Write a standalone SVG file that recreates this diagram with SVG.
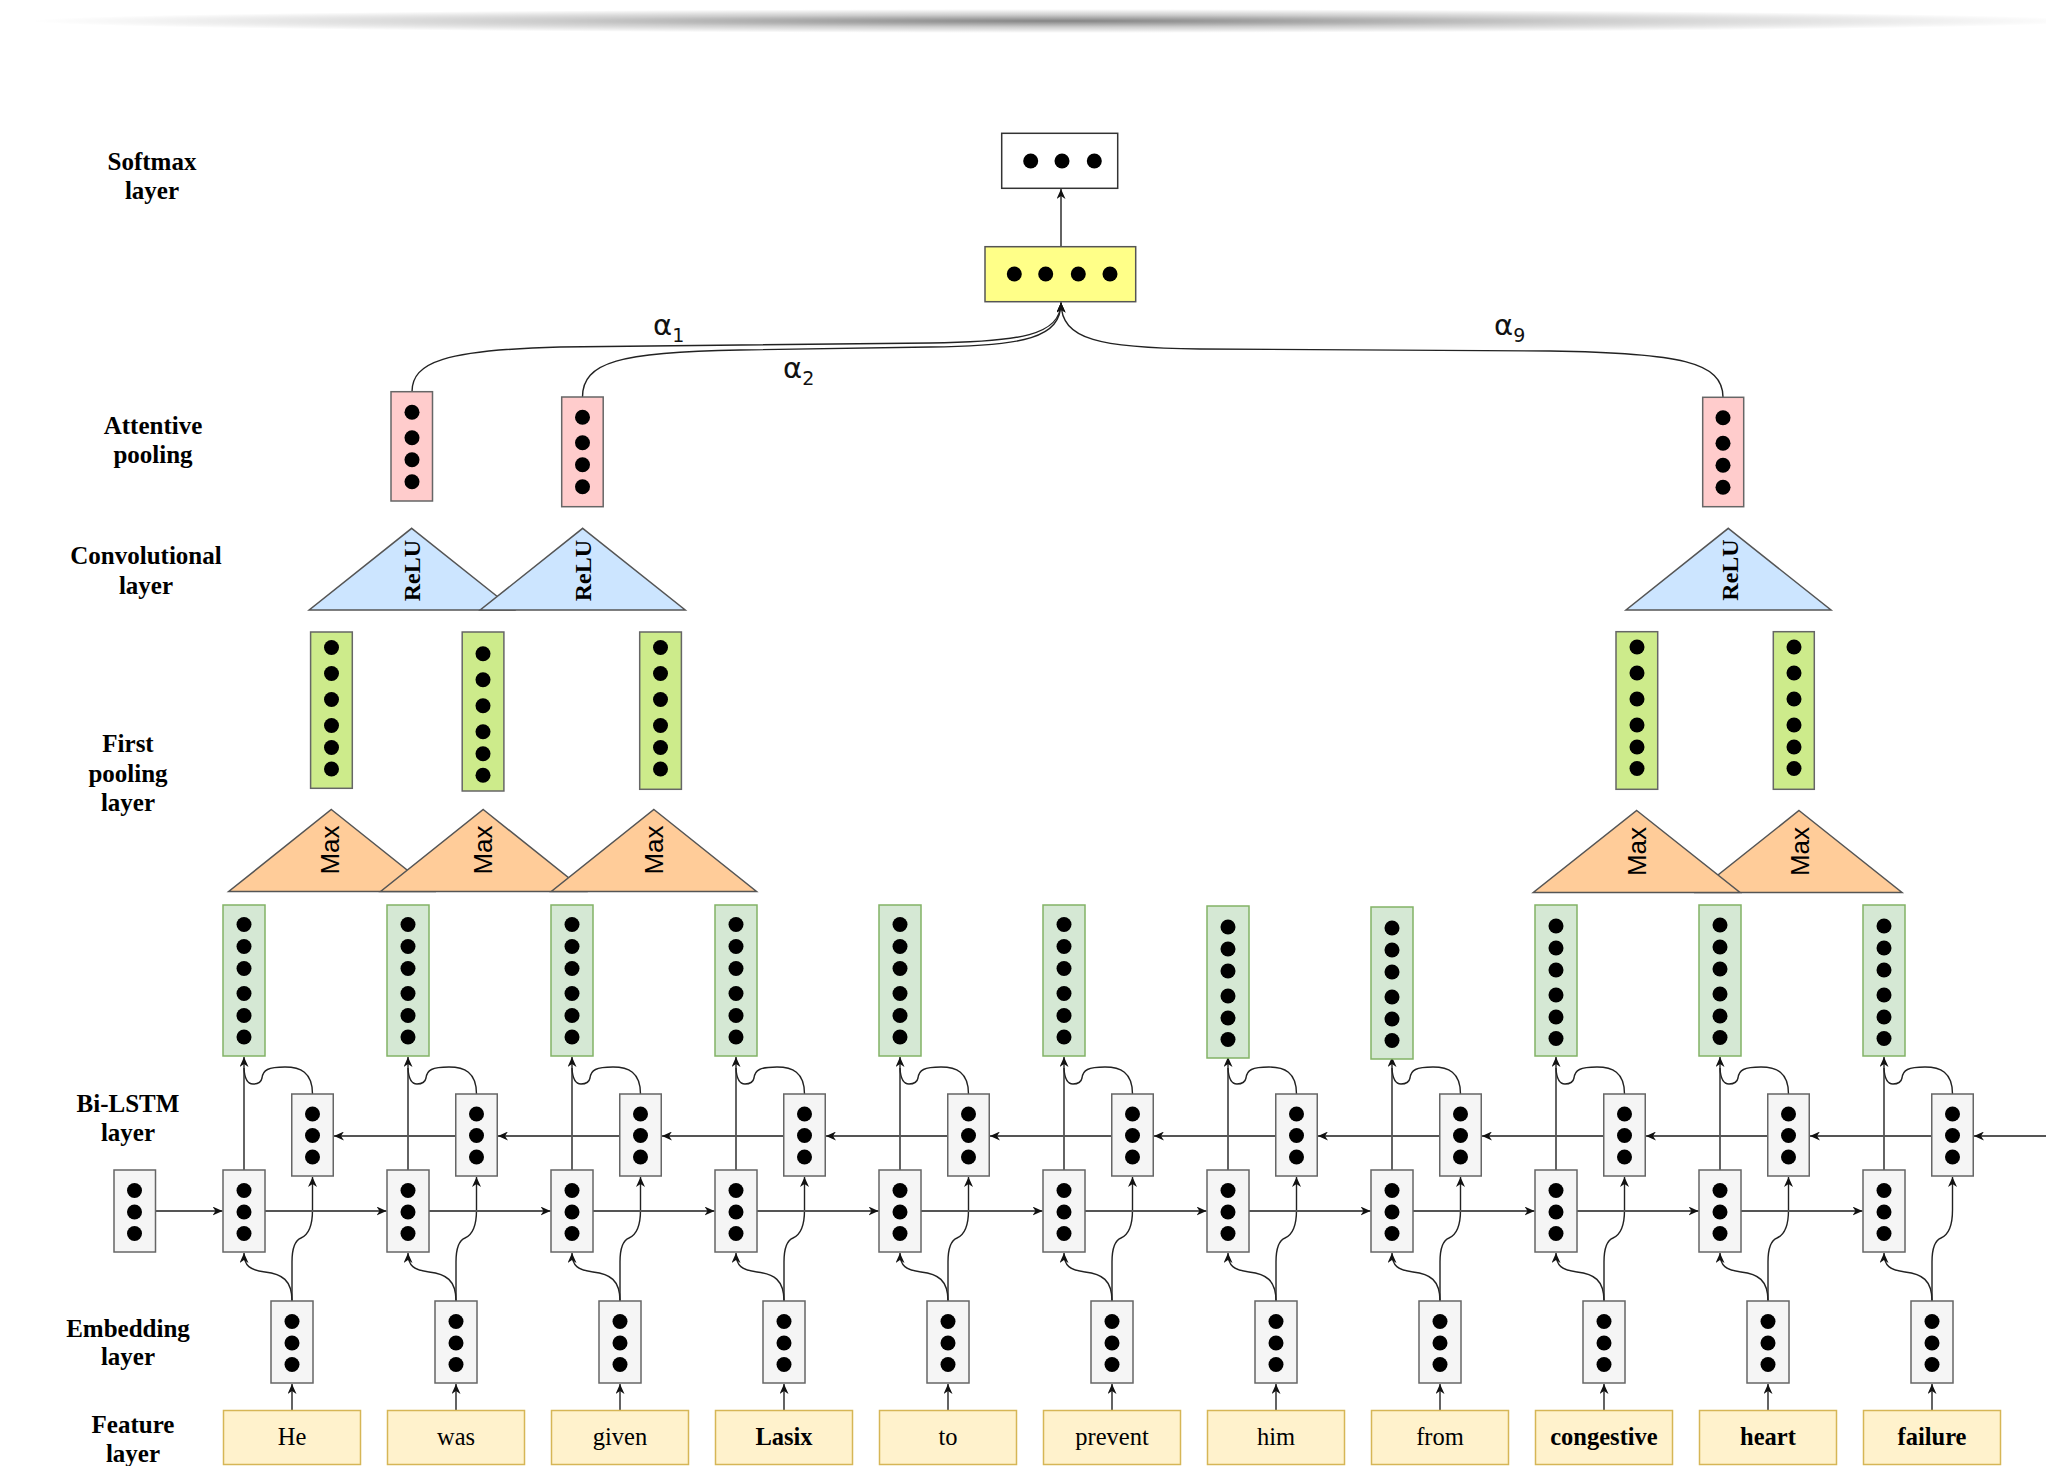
<svg xmlns="http://www.w3.org/2000/svg" width="2046" height="1466" viewBox="0 0 2046 1466">
  <style>
    .box{fill:#F5F5F5;stroke:#666;stroke-width:1.5}
    .out{fill:#D5E8D4;stroke:#82B366;stroke-width:1.5}
    .pool{fill:#CDEB8B;stroke:#666;stroke-width:1.5}
    .attn{fill:#FFCCCC;stroke:#666;stroke-width:1.5}
    .feat{fill:#FFF2CC;stroke:#D6B656;stroke-width:1.5}
    .relu{fill:#CCE5FF;stroke:#555;stroke-width:1.5}
    .max{fill:#FFCC99;stroke:#555;stroke-width:1.5}
    .agg{fill:#FFFF88;stroke:#555;stroke-width:1.5}
    .soft{fill:#FFFFFF;stroke:#333;stroke-width:1.5}
    .edge{fill:none;stroke:#222;stroke-width:1.4}
    .hedge{fill:none;stroke:#555;stroke-width:1.8}
    .dots circle{fill:#000}
    .lbl{font-family:"Liberation Serif",serif;font-weight:bold;font-size:25px;text-anchor:middle;fill:#000}
    .word{font-family:"Liberation Serif",serif;font-size:24.5px;text-anchor:middle;fill:#000}
    .bold{font-weight:bold}
    .rl{font-family:"Liberation Serif",serif;font-weight:bold;font-size:24px;text-anchor:middle;dominant-baseline:central;fill:#000}
    .mx{font-family:"Liberation Sans",sans-serif;font-size:26px;text-anchor:middle;dominant-baseline:central;fill:#000}
    .alpha{font-family:"DejaVu Sans",sans-serif;font-size:29px;fill:#111}
    .sub{font-size:19px}
  </style>
  <defs>
    <radialGradient id="shade" cx="0.5" cy="0.5" r="0.5">
      <stop offset="0" stop-color="#000" stop-opacity="0.48"/>
      <stop offset="0.5" stop-color="#000" stop-opacity="0.2"/>
      <stop offset="1" stop-color="#000" stop-opacity="0"/>
    </radialGradient>
    <marker id="arr" viewBox="0 0 10 9" refX="10" refY="4.5" markerWidth="10" markerHeight="9" markerUnits="userSpaceOnUse" orient="auto">
      <path d="M0,0 L10,4.5 L0,9 L3,4.5 Z" fill="#111"/>
    </marker>
    <!-- dot stacks -->
    <g id="d3" class="dots"><circle cx="0" cy="0" r="7.5"/><circle cx="0" cy="21.5" r="7.5"/><circle cx="0" cy="43" r="7.5"/></g>
    <g id="d4" class="dots"><circle cx="0" cy="0" r="7.5"/><circle cx="0" cy="25.5" r="7.5"/><circle cx="0" cy="47.5" r="7.5"/><circle cx="0" cy="69.5" r="7.5"/></g>
    <g id="d6" class="dots"><circle cx="0" cy="0" r="7.5"/><circle cx="0" cy="22" r="7.5"/><circle cx="0" cy="44" r="7.5"/><circle cx="0" cy="69" r="7.5"/><circle cx="0" cy="91" r="7.5"/><circle cx="0" cy="112.5" r="7.5"/></g>
    <g id="d6p" class="dots"><circle cx="0" cy="0" r="7.5"/><circle cx="0" cy="26" r="7.5"/><circle cx="0" cy="52" r="7.5"/><circle cx="0" cy="78" r="7.5"/><circle cx="0" cy="100" r="7.5"/><circle cx="0" cy="121.5" r="7.5"/></g>
    <!-- links of one word column (column 0); other columns are shifted by 164 -->
    <g id="col-links">
      <path class="edge" marker-end="url(#arr)" d="M292 1410 L292 1384"/>
      <path class="edge" marker-end="url(#arr)" d="M292 1301 C292 1280 282 1274 265 1272 C250 1270 244 1266 244 1253"/>
      <path class="edge" marker-end="url(#arr)" d="M292 1301 L292 1262 C292 1245 296 1240 301 1238 C308 1235 312.5 1228 312.5 1210 L312.5 1177"/>
      <path class="edge" marker-end="url(#arr)" d="M244 1170 L244 1057"/>
      <path class="edge" d="M312.5 1094 C312.5 1072 300 1067 285 1067 C268 1067 263 1070 262 1078 C261 1083 257 1084 253 1084 C247 1084 244.5 1078 244 1068"/>
    </g>
    <!-- forward step to the next cell and backward step from the next cell -->
    <g id="rec-links">
      <path class="hedge" marker-end="url(#arr)" d="M265 1211 L386.5 1211"/>
      <path class="hedge" marker-end="url(#arr)" d="M455.75 1136 L334 1136"/>
    </g>
  </defs>

  <!-- top shading band -->
  <ellipse cx="1060" cy="21" rx="1030" ry="12" fill="url(#shade)"/>

  <!-- layer labels -->
  <g id="labels">
    <text class="lbl" x="152" y="170">Softmax</text><text class="lbl" x="152" y="199">layer</text>
    <text class="lbl" x="153" y="434">Attentive</text><text class="lbl" x="153" y="463">pooling</text>
    <text class="lbl" x="146" y="564">Convolutional</text><text class="lbl" x="146" y="594">layer</text>
    <text class="lbl" x="128" y="752">First</text><text class="lbl" x="128" y="782">pooling</text><text class="lbl" x="128" y="811">layer</text>
    <text class="lbl" x="128" y="1112">Bi-LSTM</text><text class="lbl" x="128" y="1141">layer</text>
    <text class="lbl" x="128" y="1337">Embedding</text><text class="lbl" x="128" y="1365">layer</text>
    <text class="lbl" x="133" y="1433">Feature</text><text class="lbl" x="133" y="1462">layer</text>
  </g>

  <!-- connectors -->
  <g id="connectors">
    <use href="#col-links" x="0"/>
    <use href="#col-links" x="164"/>
    <use href="#col-links" x="328"/>
    <use href="#col-links" x="492"/>
    <use href="#col-links" x="656"/>
    <use href="#col-links" x="820"/>
    <use href="#col-links" x="984"/>
    <use href="#col-links" x="1148"/>
    <use href="#col-links" x="1312"/>
    <use href="#col-links" x="1476"/>
    <use href="#col-links" x="1640"/>
    <!-- forward and backward recurrences -->
    <path class="hedge" marker-end="url(#arr)" d="M155.5 1211 L222.5 1211"/>
    <use href="#rec-links" x="0"/>
    <use href="#rec-links" x="164"/>
    <use href="#rec-links" x="328"/>
    <use href="#rec-links" x="492"/>
    <use href="#rec-links" x="656"/>
    <use href="#rec-links" x="820"/>
    <use href="#rec-links" x="984"/>
    <use href="#rec-links" x="1148"/>
    <use href="#rec-links" x="1312"/>
    <use href="#rec-links" x="1476"/>
    <path class="hedge" marker-end="url(#arr)" d="M2046 1136 L1974 1136"/>
    <!-- attention weights -->
    <path class="edge" marker-end="url(#arr)" d="M412 391.7 C412 362 445 350 560 347 L930 343 C1020 342 1061 335 1061 302.5"/>
    <path class="edge" marker-end="url(#arr)" d="M582.5 397 C582.5 362 620 352 740 350 L930 347 C1025 346 1061 338 1061 302.5"/>
    <path class="edge" marker-end="url(#arr)" d="M1723 397.3 C1723 362 1680 353 1550 351 L1200 349 C1100 348 1061 340 1061 302.5"/>
    <path class="edge" marker-end="url(#arr)" d="M1061 246.7 L1061 189"/>
    <text class="alpha" x="653" y="335">α<tspan class="sub" dy="7">1</tspan></text>
    <text class="alpha" x="783" y="378">α<tspan class="sub" dy="7">2</tspan></text>
    <text class="alpha" x="1494" y="335">α<tspan class="sub" dy="7">9</tspan></text>
  </g>

  <!-- softmax output -->
  <g id="softmax">
    <rect class="soft" x="1001.7" y="133.3" width="116" height="55"/>
    <g class="dots"><circle cx="1030.7" cy="161" r="7.5"/><circle cx="1062" cy="161" r="7.5"/><circle cx="1094.3" cy="161" r="7.5"/></g>
  </g>
  <g id="sentence-vector">
    <rect class="agg" x="985" y="246.7" width="150.7" height="55"/>
    <g class="dots"><circle cx="1014.3" cy="274" r="7.5"/><circle cx="1045.7" cy="274" r="7.5"/><circle cx="1078.3" cy="274" r="7.5"/><circle cx="1110" cy="274" r="7.5"/></g>
  </g>

  <!-- attentive pooling -->
  <g id="attn-1"><rect class="attn" x="391" y="391.7" width="41.5" height="109.3"/><use href="#d4" x="412" y="412.3"/></g>
  <g id="attn-2"><rect class="attn" x="561.7" y="397" width="41.5" height="109.7"/><use href="#d4" x="582.5" y="417.3"/></g>
  <g id="attn-9"><rect class="attn" x="1702.7" y="397.3" width="41" height="109.4"/><use href="#d4" x="1723" y="417.7"/></g>

  <!-- convolution -->
  <g id="conv-1"><polygon class="relu" points="411.7,528.3 514.2,610 309.2,610"/><text class="rl" transform="translate(411.7,570.7) rotate(-90)">ReLU</text></g>
  <g id="conv-2"><polygon class="relu" points="582.7,528.3 685.2,610 480.2,610"/><text class="rl" transform="translate(582.7,570.7) rotate(-90)">ReLU</text></g>
  <g id="conv-9"><polygon class="relu" points="1728.3,528.3 1831,610 1626,610"/><text class="rl" transform="translate(1729.5,570) rotate(-90)">ReLU</text></g>

  <!-- first pooling outputs -->
  <g id="pool-1"><rect class="pool" x="310.6" y="632" width="41.7" height="156.3"/><use href="#d6p" x="331.5" y="647.5"/></g>
  <g id="pool-2"><rect class="pool" x="462.2" y="632" width="41.7" height="159"/><use href="#d6p" x="483" y="653.7"/></g>
  <g id="pool-3"><rect class="pool" x="639.7" y="632" width="41.7" height="157.3"/><use href="#d6p" x="660.5" y="647.5"/></g>
  <g id="pool-9"><rect class="pool" x="1616" y="631.7" width="41.7" height="157.6"/><use href="#d6p" x="1637" y="647"/></g>
  <g id="pool-10"><rect class="pool" x="1773.3" y="631.7" width="41" height="157.6"/><use href="#d6p" x="1794" y="647"/></g>

  <!-- max pooling windows -->
  <g id="max-1"><polygon class="max" points="331.3,809.5 434,891.5 228.7,891.5"/><text class="mx" transform="translate(330,850) rotate(-90)">Max</text></g>
  <g id="max-2"><polygon class="max" points="483.2,809.5 585.8,891.5 380.6,891.5"/><text class="mx" transform="translate(483,850) rotate(-90)">Max</text></g>
  <g id="max-3"><polygon class="max" points="653.9,809.5 756.5,891.5 551.3,891.5"/><text class="mx" transform="translate(654,850) rotate(-90)">Max</text></g>
  <g id="max-10"><polygon class="max" points="1799,810.5 1902,892.5 1696,892.5"/><text class="mx" transform="translate(1800,851.5) rotate(-90)">Max</text></g>
  <g id="max-9"><polygon class="max" points="1636.7,810.5 1740,892.5 1533.3,892.5"/><text class="mx" transform="translate(1637,851.5) rotate(-90)">Max</text></g>

  <!-- Bi-LSTM outputs -->
  <g id="out-0"><rect class="out" x="223" y="905" width="42" height="151"/><use href="#d6" x="244" y="924.5"/></g>
  <g id="out-1"><rect class="out" x="387" y="905" width="42" height="151"/><use href="#d6" x="408" y="924.5"/></g>
  <g id="out-2"><rect class="out" x="551" y="905" width="42" height="151"/><use href="#d6" x="572" y="924.5"/></g>
  <g id="out-3"><rect class="out" x="715" y="905" width="42" height="151"/><use href="#d6" x="736" y="924.5"/></g>
  <g id="out-4"><rect class="out" x="879" y="905" width="42" height="151"/><use href="#d6" x="900" y="924.5"/></g>
  <g id="out-5"><rect class="out" x="1043" y="905" width="42" height="151"/><use href="#d6" x="1064" y="924.5"/></g>
  <g id="out-6"><rect class="out" x="1207" y="906" width="42" height="152"/><use href="#d6" x="1228" y="927"/></g>
  <g id="out-7"><rect class="out" x="1371" y="907" width="42" height="152"/><use href="#d6" x="1392" y="928"/></g>
  <g id="out-8"><rect class="out" x="1535" y="905" width="42" height="151"/><use href="#d6" x="1556" y="926"/></g>
  <g id="out-9"><rect class="out" x="1699" y="905" width="42" height="151"/><use href="#d6" x="1720" y="925"/></g>
  <g id="out-10"><rect class="out" x="1863" y="905" width="42" height="151"/><use href="#d6" x="1884" y="926"/></g>

  <!-- backward LSTM cells -->
  <g id="bwd-0"><rect class="box" x="291.75" y="1094" width="41.5" height="82"/><use href="#d3" x="312.5" y="1114"/></g>
  <g id="bwd-1"><rect class="box" x="455.75" y="1094" width="41.5" height="82"/><use href="#d3" x="476.5" y="1114"/></g>
  <g id="bwd-2"><rect class="box" x="619.75" y="1094" width="41.5" height="82"/><use href="#d3" x="640.5" y="1114"/></g>
  <g id="bwd-3"><rect class="box" x="783.75" y="1094" width="41.5" height="82"/><use href="#d3" x="804.5" y="1114"/></g>
  <g id="bwd-4"><rect class="box" x="947.75" y="1094" width="41.5" height="82"/><use href="#d3" x="968.5" y="1114"/></g>
  <g id="bwd-5"><rect class="box" x="1111.75" y="1094" width="41.5" height="82"/><use href="#d3" x="1132.5" y="1114"/></g>
  <g id="bwd-6"><rect class="box" x="1275.75" y="1094" width="41.5" height="82"/><use href="#d3" x="1296.5" y="1114"/></g>
  <g id="bwd-7"><rect class="box" x="1439.75" y="1094" width="41.5" height="82"/><use href="#d3" x="1460.5" y="1114"/></g>
  <g id="bwd-8"><rect class="box" x="1603.75" y="1094" width="41.5" height="82"/><use href="#d3" x="1624.5" y="1114"/></g>
  <g id="bwd-9"><rect class="box" x="1767.75" y="1094" width="41.5" height="82"/><use href="#d3" x="1788.5" y="1114"/></g>
  <g id="bwd-10"><rect class="box" x="1931.75" y="1094" width="41.5" height="82"/><use href="#d3" x="1952.5" y="1114"/></g>

  <!-- forward LSTM cells -->
  <g id="fwd-init"><rect class="box" x="114" y="1170" width="41.5" height="82"/><use href="#d3" x="134.5" y="1190.5"/></g>
  <g id="fwd-0"><rect class="box" x="223" y="1170" width="42" height="82"/><use href="#d3" x="244" y="1190.5"/></g>
  <g id="fwd-1"><rect class="box" x="387" y="1170" width="42" height="82"/><use href="#d3" x="408" y="1190.5"/></g>
  <g id="fwd-2"><rect class="box" x="551" y="1170" width="42" height="82"/><use href="#d3" x="572" y="1190.5"/></g>
  <g id="fwd-3"><rect class="box" x="715" y="1170" width="42" height="82"/><use href="#d3" x="736" y="1190.5"/></g>
  <g id="fwd-4"><rect class="box" x="879" y="1170" width="42" height="82"/><use href="#d3" x="900" y="1190.5"/></g>
  <g id="fwd-5"><rect class="box" x="1043" y="1170" width="42" height="82"/><use href="#d3" x="1064" y="1190.5"/></g>
  <g id="fwd-6"><rect class="box" x="1207" y="1170" width="42" height="82"/><use href="#d3" x="1228" y="1190.5"/></g>
  <g id="fwd-7"><rect class="box" x="1371" y="1170" width="42" height="82"/><use href="#d3" x="1392" y="1190.5"/></g>
  <g id="fwd-8"><rect class="box" x="1535" y="1170" width="42" height="82"/><use href="#d3" x="1556" y="1190.5"/></g>
  <g id="fwd-9"><rect class="box" x="1699" y="1170" width="42" height="82"/><use href="#d3" x="1720" y="1190.5"/></g>
  <g id="fwd-10"><rect class="box" x="1863" y="1170" width="42" height="82"/><use href="#d3" x="1884" y="1190.5"/></g>

  <!-- word embeddings -->
  <g id="emb-0"><rect class="box" x="271" y="1301" width="42" height="82"/><use href="#d3" x="292" y="1321.5"/></g>
  <g id="emb-1"><rect class="box" x="435" y="1301" width="42" height="82"/><use href="#d3" x="456" y="1321.5"/></g>
  <g id="emb-2"><rect class="box" x="599" y="1301" width="42" height="82"/><use href="#d3" x="620" y="1321.5"/></g>
  <g id="emb-3"><rect class="box" x="763" y="1301" width="42" height="82"/><use href="#d3" x="784" y="1321.5"/></g>
  <g id="emb-4"><rect class="box" x="927" y="1301" width="42" height="82"/><use href="#d3" x="948" y="1321.5"/></g>
  <g id="emb-5"><rect class="box" x="1091" y="1301" width="42" height="82"/><use href="#d3" x="1112" y="1321.5"/></g>
  <g id="emb-6"><rect class="box" x="1255" y="1301" width="42" height="82"/><use href="#d3" x="1276" y="1321.5"/></g>
  <g id="emb-7"><rect class="box" x="1419" y="1301" width="42" height="82"/><use href="#d3" x="1440" y="1321.5"/></g>
  <g id="emb-8"><rect class="box" x="1583" y="1301" width="42" height="82"/><use href="#d3" x="1604" y="1321.5"/></g>
  <g id="emb-9"><rect class="box" x="1747" y="1301" width="42" height="82"/><use href="#d3" x="1768" y="1321.5"/></g>
  <g id="emb-10"><rect class="box" x="1911" y="1301" width="42" height="82"/><use href="#d3" x="1932" y="1321.5"/></g>

  <!-- input words -->
  <g id="word-0"><rect class="feat" x="223.5" y="1410.5" width="137" height="54"/><text class="word" x="292" y="1445">He</text></g>
  <g id="word-1"><rect class="feat" x="387.5" y="1410.5" width="137" height="54"/><text class="word" x="456" y="1445">was</text></g>
  <g id="word-2"><rect class="feat" x="551.5" y="1410.5" width="137" height="54"/><text class="word" x="620" y="1445">given</text></g>
  <g id="word-3"><rect class="feat" x="715.5" y="1410.5" width="137" height="54"/><text class="word bold" x="784" y="1445">Lasix</text></g>
  <g id="word-4"><rect class="feat" x="879.5" y="1410.5" width="137" height="54"/><text class="word" x="948" y="1445">to</text></g>
  <g id="word-5"><rect class="feat" x="1043.5" y="1410.5" width="137" height="54"/><text class="word" x="1112" y="1445">prevent</text></g>
  <g id="word-6"><rect class="feat" x="1207.5" y="1410.5" width="137" height="54"/><text class="word" x="1276" y="1445">him</text></g>
  <g id="word-7"><rect class="feat" x="1371.5" y="1410.5" width="137" height="54"/><text class="word" x="1440" y="1445">from</text></g>
  <g id="word-8"><rect class="feat" x="1535.5" y="1410.5" width="137" height="54"/><text class="word bold" x="1604" y="1445">congestive</text></g>
  <g id="word-9"><rect class="feat" x="1699.5" y="1410.5" width="137" height="54"/><text class="word bold" x="1768" y="1445">heart</text></g>
  <g id="word-10"><rect class="feat" x="1863.5" y="1410.5" width="137" height="54"/><text class="word bold" x="1932" y="1445">failure</text></g>
</svg>
